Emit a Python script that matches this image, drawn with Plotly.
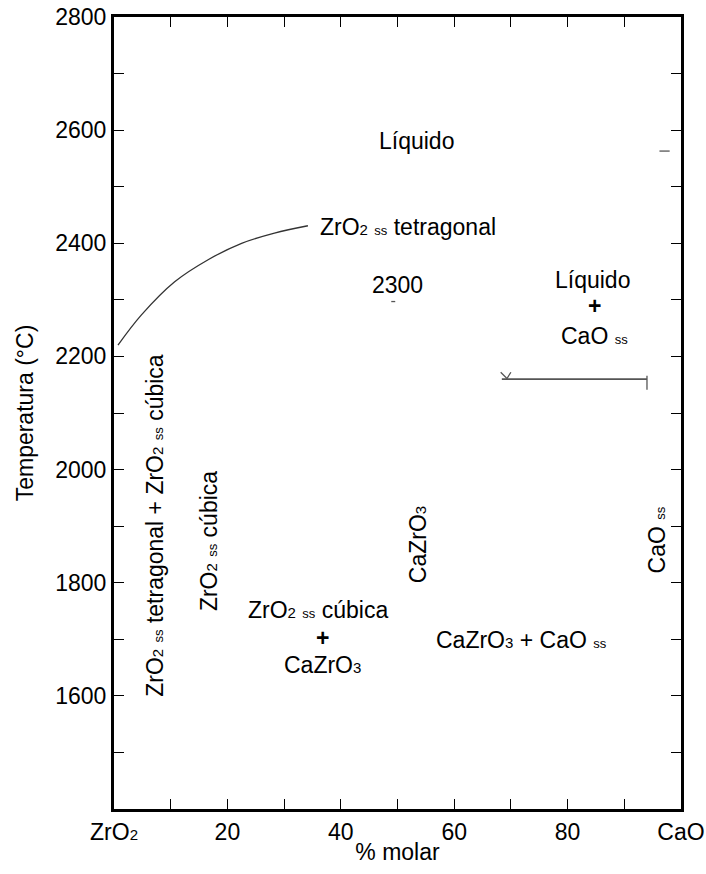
import plotly.graph_objects as go

# ---- data ----
liquidus_x = [0.7, 4.8, 10.7, 16.6, 22.5, 28.3, 34.2]
liquidus_T = [2220, 2273, 2332, 2371, 2400, 2418, 2431]

eutectic_x = [68.4, 94.0]
eutectic_T = [2160, 2160]
eutectic_end_x = [94.0, 94.0]
eutectic_end_T = [2166, 2141]
v_mark_x = [68.2, 69.3, 70.0]
v_mark_T = [2172, 2161, 2172]

dash_2300_x = [48.9, 49.6]
dash_2300_T = [2297, 2297]
edge_mark_x = [96.2, 98.0]
edge_mark_T = [2563, 2563]

x_tickvals = [0, 10, 20, 30, 40, 50, 60, 70, 80, 90, 100]
y_tickvals = [1400, 1500, 1600, 1700, 1800, 1900, 2000, 2100, 2200, 2300,
              2400, 2500, 2600, 2700, 2800]
y_ticktext = ["", "", "1600", "", "1800", "", "2000", "", "2200", "",
              "2400", "", "2600", "", "2800"]


def s2(t):
    return '<span style="font-size:15px">%s</span>' % t


def ss():
    return '<span style="font-size:13px">ss</span>'


ZRO2 = "ZrO" + s2("2")
CAZRO3 = "CaZrO" + s2("3")

x_ticktext = [ZRO2, "", "20", "", "40", "", "60", "", "80", "", "CaO"]

labels = [
    # text, x, T, angle
    ("Líquido", 53.3, 2581, 0),
    (ZRO2 + " " + ss() + " tetragonal", 51.8, 2429, 0),
    ("2300", 50.0, 2326, 0),
    ("Líquido", 84.4, 2335, 0),
    ("<b>+</b>", 84.7, 2289, 0),
    ("CaO " + ss(), 84.7, 2236, 0),
    (ZRO2 + " " + ss() + " tetragonal + " + ZRO2 + " " + ss() + " cúbica", 7.2, 1902, -90),
    (ZRO2 + " " + ss() + " cúbica", 16.8, 1874, -90),
    (CAZRO3, 53.6, 1868, -90),
    ("CaO " + ss(), 95.8, 1875, -90),
    (ZRO2 + " " + ss() + " cúbica", 36.0, 1752, 0),
    ("<b>+</b>", 36.7, 1702, 0),
    (CAZRO3, 36.7, 1654, 0),
    (CAZRO3 + " + CaO " + ss(), 71.8, 1699, 0),
]

FONT = "Liberation Sans, Arial, sans-serif"

fig = go.Figure()
fig.add_trace(go.Scatter(x=liquidus_x, y=liquidus_T, mode="lines",
                         line=dict(color="#333333", width=1.3, shape="spline"),
                         showlegend=False, hoverinfo="skip"))
for xs, ys, w in [(eutectic_x, eutectic_T, 1.8), (eutectic_end_x, eutectic_end_T, 1.3),
                  (v_mark_x, v_mark_T, 1.3), (dash_2300_x, dash_2300_T, 1.3),
                  (edge_mark_x, edge_mark_T, 1.3)]:
    fig.add_trace(go.Scatter(x=xs, y=ys, mode="lines",
                             line=dict(color="#555555", width=w),
                             showlegend=False, hoverinfo="skip"))

for text, x, y, ang in labels:
    fig.add_annotation(x=x, y=y, text=text, showarrow=False, textangle=ang,
                       font=dict(family=FONT, size=23, color="black"),
                       xanchor="center", yanchor="middle")

axis_common = dict(showline=True, linecolor="black", linewidth=3, mirror="ticks",
                   ticks="inside", tickcolor="black", tickwidth=1, ticklen=10,
                   showgrid=False, zeroline=False, automargin=False,
                   tickfont=dict(family=FONT, size=23, color="black"))

fig.update_xaxes(range=[0, 100], tickmode="array", tickvals=x_tickvals,
                 ticktext=x_ticktext,
                 title=dict(text="% molar", font=dict(family=FONT, size=23, color="black"),
                            standoff=1),
                 **axis_common)
fig.update_yaxes(range=[1400, 2800], tickmode="array", tickvals=y_tickvals,
                 ticktext=y_ticktext,
                 title=dict(text="Temperatura (°C)", font=dict(family=FONT, size=23, color="black"),
                            standoff=16),
                 **axis_common)

fig.update_layout(width=706, height=874,
                  margin=dict(l=114, r=25, t=17, b=65),
                  paper_bgcolor="white", plot_bgcolor="white",
                  font=dict(family=FONT, size=23, color="black"))

fig.write_html("out.html")
